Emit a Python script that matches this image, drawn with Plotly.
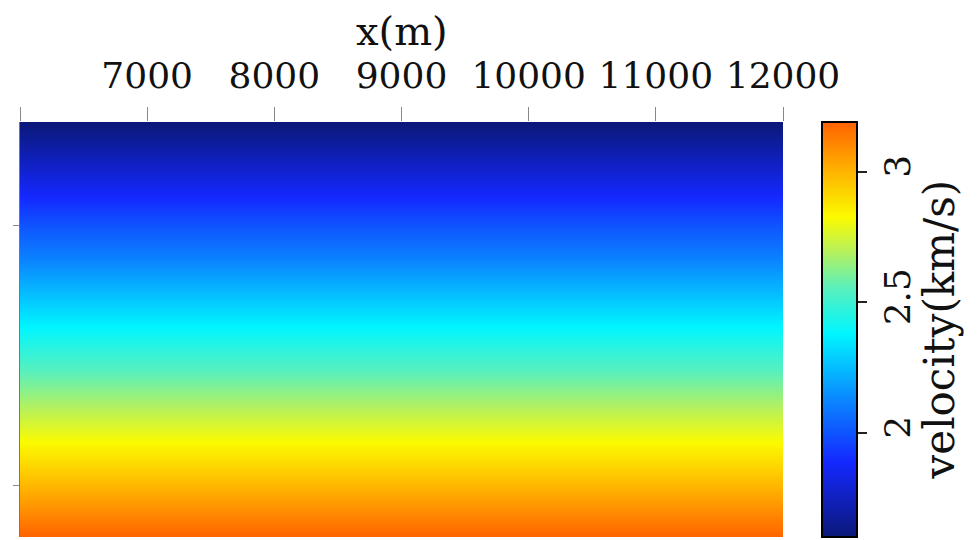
import plotly.graph_objects as go

# ---- data ----
x_m = [6000, 12000]
depth_m = [0, 100, 200, 300, 400, 500, 600, 700, 800, 900, 1000,
           1100, 1200, 1300, 1400, 1500, 1600]
velocity_kms = [1.60, 1.70, 1.80, 1.90, 2.00, 2.09, 2.19, 2.29, 2.39,
                2.49, 2.59, 2.69, 2.79, 2.89, 2.99, 3.09, 3.19]
x_tickvals = [6000, 7000, 8000, 9000, 10000, 11000, 12000]
x_ticktext = ["", "7000", "8000", "9000", "10000", "11000", "12000"]
y_tickvals = [400, 1400]
cb_tickvals = [2, 2.5, 3]
cb_ticktext = ["2", "2.5", "3"]

z = [[v for _ in x_m] for v in velocity_kms]

colorscale = [
    [0.00, "#0b1878"],
    [0.18, "#1428ff"],
    [0.33, "#0a86ff"],
    [0.49, "#00f6ff"],
    [0.60, "#5af0bc"],
    [0.69, "#b8f15a"],
    [0.77, "#fbfb00"],
    [0.88, "#ffb400"],
    [1.00, "#ff6200"],
]

FONT = "DejaVu Serif"

fig = go.Figure(go.Heatmap(
    x=x_m, y=depth_m, z=z,
    zsmooth="best",
    colorscale=colorscale,
    zmin=1.60, zmax=3.19,
    colorbar=dict(
        x=1.051, xanchor="left", xpad=0, ypad=0,
        y=0.5, yanchor="middle", len=1, lenmode="fraction",
        thickness=35, outlinewidth=2, outlinecolor="black",
        tickvals=cb_tickvals, ticktext=cb_ticktext,
        ticks="outside", ticklen=9, tickwidth=2, tickcolor="#222",
        tickangle=-90,
        tickfont=dict(family=FONT, size=36, color="#111"),
    ),
))

# colour-bar title (vertical)
fig.add_annotation(
    text="velocity(km/s)", textangle=-90,
    xref="paper", yref="paper", x=1.2057, y=0.5,
    xanchor="center", yanchor="middle", showarrow=False,
    font=dict(family=FONT, size=42, color="#111"),
)
# x-axis title above the tick labels
fig.add_annotation(
    text="x(m)", xref="paper", yref="paper", x=0.5, y=1.219,
    xanchor="center", yanchor="middle", showarrow=False,
    font=dict(family=FONT, size=40, color="#111"),
)

fig.update_layout(
    width=978, height=540,
    margin=dict(l=20, r=195, t=122, b=3),
    paper_bgcolor="white", plot_bgcolor="white",
    xaxis=dict(
        side="top", range=[6000, 12000],
        tickvals=x_tickvals, ticktext=x_ticktext,
        ticks="outside", ticklen=14, tickcolor="#888", tickwidth=1,
        ticklabelstandoff=5,
        tickfont=dict(family=FONT, size=36, color="#111"),
        showgrid=False, zeroline=False, showline=False,
    ),
    yaxis=dict(
        range=[1600, 0], tickvals=y_tickvals, showticklabels=False,
        ticks="outside", ticklen=6, tickcolor="#888", tickwidth=1,
        showline=True, linecolor="#777", linewidth=1,
        showgrid=False, zeroline=False,
    ),
)

fig.write_html("out.html")
